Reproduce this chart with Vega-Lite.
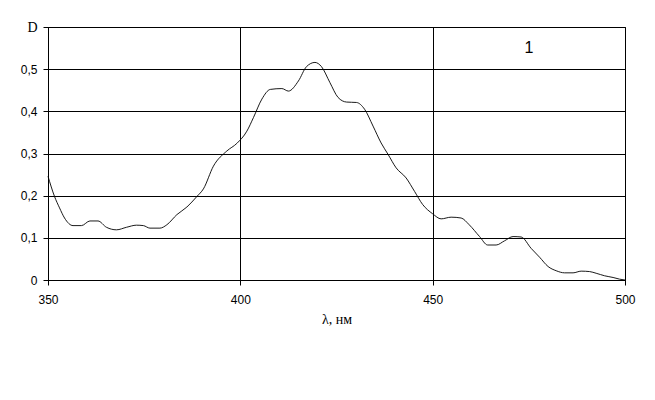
{
  "$schema": "https://vega.github.io/schema/vega-lite/v6.json",
  "autosize": "none",
  "width": 577,
  "height": 253,
  "padding": {"left": 48, "top": 27, "right": 30, "bottom": 120},
  "background": "white",
  "config": {
    "view": {"stroke": "black", "strokeWidth": 1},
    "axis": {
      "gridColor": "black", "gridOpacity": 1, "gridWidth": 1,
      "domainColor": "black", "tickColor": "black", "tickSize": 5,
      "labelColor": "black", "labelFont": "Liberation Sans", "labelFontSize": 12,
      "labelFontWeight": "normal",
      "titleColor": "black"
    }
  },
  "datasets": {
    "spectrum": [
      {"wl": 350, "d": 0.246}, {"wl": 351.7, "d": 0.198}, {"wl": 353, "d": 0.171},
      {"wl": 354.3, "d": 0.147}, {"wl": 356.5, "d": 0.129}, {"wl": 358.7, "d": 0.129},
      {"wl": 360.9, "d": 0.140}, {"wl": 363, "d": 0.140}, {"wl": 365.2, "d": 0.125},
      {"wl": 367.8, "d": 0.119}, {"wl": 370.4, "d": 0.125}, {"wl": 373, "d": 0.130},
      {"wl": 374.8, "d": 0.129}, {"wl": 376.5, "d": 0.123}, {"wl": 379.1, "d": 0.123},
      {"wl": 380.9, "d": 0.131}, {"wl": 383.5, "d": 0.155}, {"wl": 386.1, "d": 0.173},
      {"wl": 388.7, "d": 0.198}, {"wl": 390.4, "d": 0.216}, {"wl": 393, "d": 0.270},
      {"wl": 396.5, "d": 0.306}, {"wl": 399.1, "d": 0.324}, {"wl": 401.7, "d": 0.353},
      {"wl": 403.4, "d": 0.385}, {"wl": 405.6, "d": 0.429}, {"wl": 407.8, "d": 0.452},
      {"wl": 410.8, "d": 0.454}, {"wl": 412.5, "d": 0.448}, {"wl": 415.1, "d": 0.472},
      {"wl": 417.2, "d": 0.506}, {"wl": 419.4, "d": 0.516}, {"wl": 421.1, "d": 0.506},
      {"wl": 423.3, "d": 0.468}, {"wl": 425.4, "d": 0.433}, {"wl": 427.6, "d": 0.422},
      {"wl": 430.2, "d": 0.421}, {"wl": 432.3, "d": 0.405}, {"wl": 434.5, "d": 0.365},
      {"wl": 436.6, "d": 0.325}, {"wl": 438.4, "d": 0.298}, {"wl": 440.5, "d": 0.266},
      {"wl": 443.1, "d": 0.242}, {"wl": 445.3, "d": 0.210}, {"wl": 447.4, "d": 0.179},
      {"wl": 450, "d": 0.157}, {"wl": 452.2, "d": 0.145}, {"wl": 454.8, "d": 0.149},
      {"wl": 457.4, "d": 0.147}, {"wl": 459.5, "d": 0.131}, {"wl": 462.2, "d": 0.103},
      {"wl": 464.3, "d": 0.083}, {"wl": 466.5, "d": 0.083}, {"wl": 468.7, "d": 0.093},
      {"wl": 470.9, "d": 0.103}, {"wl": 473, "d": 0.102}, {"wl": 475.6, "d": 0.075},
      {"wl": 477.8, "d": 0.054}, {"wl": 480, "d": 0.032}, {"wl": 482.1, "d": 0.022},
      {"wl": 484.3, "d": 0.017}, {"wl": 486.5, "d": 0.017}, {"wl": 488.6, "d": 0.021},
      {"wl": 490.8, "d": 0.020}, {"wl": 492.5, "d": 0.016}, {"wl": 494.7, "d": 0.010},
      {"wl": 496.9, "d": 0.006}, {"wl": 498.6, "d": 0.002}, {"wl": 500, "d": 0.0}
    ],
    "labels": [{"wl": 475, "d": 0.551, "text": "1"}]
  },
  "layer": [
    {
      "data": {"name": "spectrum"},
      "mark": {"type": "line", "color": "black", "strokeWidth": 0.9, "interpolate": "monotone"},
      "encoding": {
        "x": {
          "field": "wl", "type": "quantitative",
          "scale": {"domain": [350, 500], "nice": false, "zero": false},
          "axis": {
            "values": [350, 400, 450, 500], "grid": true,
            "title": "λ, нм", "titleFont": "Liberation Serif", "titleFontSize": 14,
            "titleFontWeight": "normal", "titlePadding": 7, "labelPadding": 9,
            "labelFlush": false
          }
        },
        "y": {
          "field": "d", "type": "quantitative",
          "scale": {"domain": [0, 0.6], "nice": false},
          "axis": {
            "values": [0, 0.1, 0.2, 0.3, 0.4, 0.5, 0.6], "grid": true, "title": null,
            "labelPadding": 6,
            "labelExpr": "datum.value > 0.55 ? 'D' : replace(format(datum.value, '.1~f'), '.', ',')",
            "labelFont": {"condition": {"test": "datum.value > 0.55", "value": "Liberation Serif"}, "value": "Liberation Sans"},
            "labelFontSize": {"condition": {"test": "datum.value > 0.55", "value": 14}, "value": 12}
          }
        }
      }
    },
    {
      "data": {"name": "labels"},
      "mark": {"type": "text", "font": "Liberation Sans", "fontSize": 16, "fontWeight": "normal", "color": "black"},
      "encoding": {
        "x": {"field": "wl", "type": "quantitative"},
        "y": {"field": "d", "type": "quantitative"},
        "text": {"field": "text"}
      }
    }
  ]
}
